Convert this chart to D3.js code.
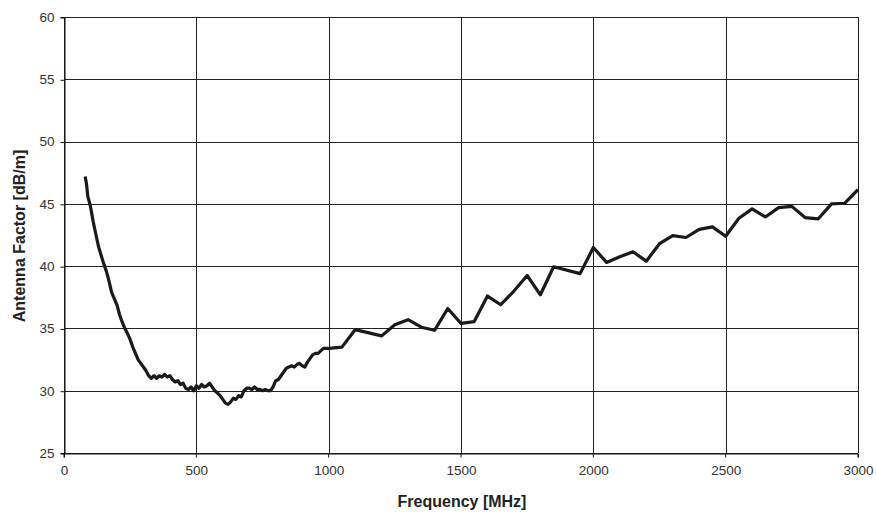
<!DOCTYPE html>
<html><head><meta charset="utf-8">
<script src="https://cdn.jsdelivr.net/npm/d3@7"></script>
<style>body{margin:0;background:#fff}svg{display:block}</style>
</head><body>
<svg id="c" width="876" height="513"></svg>
<script>
const freqs = [80,85,90,95,100,110,120,130,140,150,160,170,180,190,200,210,220,230,240,250,260,270,280,290,300,310,320,330,340,350,360,370,380,390,400,410,420,430,440,450,460,470,480,490,500,510,520,530,540,550,560,570,580,590,600,610,620,630,640,650,660,670,680,690,700,710,720,730,740,750,760,770,780,790,800,810,820,830,840,850,860,870,880,890,900,910,920,930,940,950,960,970,980,1000,1050,1100,1200,1250,1300,1350,1400,1450,1500,1550,1600,1650,1700,1750,1800,1850,1950,2000,2050,2100,2150,2200,2250,2300,2350,2400,2450,2500,2550,2600,2650,2700,2750,2800,2850,2900,2950,3000];
const antennaFactor = [47.2,46.6,45.6,45.2,44.8,43.6,42.6,41.6,40.9,40.2,39.6,38.8,37.9,37.4,36.9,36.1,35.5,35.0,34.6,34.1,33.5,33.0,32.5,32.2,31.9,31.6,31.2,31.0,31.2,31.0,31.2,31.1,31.3,31.1,31.2,30.9,30.7,30.8,30.5,30.6,30.2,30.1,30.3,30.0,30.4,30.2,30.5,30.3,30.4,30.6,30.3,30.0,29.8,29.6,29.3,29.0,28.9,29.1,29.4,29.3,29.6,29.5,30.0,30.2,30.2,30.1,30.3,30.1,30.1,30.0,30.1,30.0,30.0,30.3,30.8,30.9,31.2,31.5,31.8,31.9,32.0,31.9,32.1,32.2,32.0,31.9,32.3,32.6,32.9,33.0,33.0,33.2,33.4,33.4,33.5,34.9,34.4,35.3,35.7,35.1,34.85,36.6,35.4,35.55,37.6,36.9,38.0,39.25,37.7,39.95,39.4,41.5,40.3,40.75,41.15,40.4,41.8,42.45,42.3,42.95,43.15,42.4,43.85,44.6,43.95,44.7,44.8,43.9,43.8,45.0,45.05,46.15];
const xTicks = [0,500,1000,1500,2000,2500,3000];
const yTicks = [25,30,35,40,45,50,55,60];
const xTitle = "Frequency [MHz]";
const yTitle = "Antenna Factor [dB/m]";

const svg = d3.select("#c");
const L = 64, R = 858, T = 17, B = 453;
const x = d3.scaleLinear().domain([0,3000]).range([L,R]);
const y = d3.scaleLinear().domain([25,60]).range([B,T]);
const font = "'Liberation Sans', Arial, sans-serif";

// grid
svg.append("g").selectAll("line").data(yTicks).join("line")
  .attr("x1",L).attr("x2",R).attr("y1",d=>Math.round(y(d))+0.5).attr("y2",d=>Math.round(y(d))+0.5)
  .attr("stroke","#222").attr("stroke-width",1);
svg.append("g").selectAll("line").data(xTicks).join("line")
  .attr("y1",T).attr("y2",B).attr("x1",d=>Math.round(x(d))+0.5).attr("x2",d=>Math.round(x(d))+0.5)
  .attr("stroke","#222").attr("stroke-width",1);

// axes
const xa = svg.append("g").attr("transform",`translate(0,${Math.round(B)+0.5})`)
  .call(d3.axisBottom(x).tickValues(xTicks).tickSize(4).tickPadding(8).tickFormat(d3.format("d")));
const ya = svg.append("g").attr("transform",`translate(${Math.round(L)+0.5},0)`)
  .call(d3.axisLeft(y).tickValues(yTicks).tickSize(4).tickPadding(6).tickFormat(d3.format("d")));
[xa,ya].forEach(g=>{
  g.select(".domain").attr("stroke","#111");
  g.selectAll(".tick line").attr("stroke","#111");
  g.selectAll("text").attr("font-family",font).attr("font-size","13.5px").attr("fill","#333");
});
xa.selectAll(".tick line").attr("transform","translate(-0.5,0)");
ya.selectAll(".tick line").attr("transform","translate(0,0.5)");

// line
svg.append("path").datum(freqs.map((f,i)=>[f,antennaFactor[i]]))
  .attr("fill","none").attr("stroke","#1a1a1a").attr("stroke-width",3.2)
  .attr("stroke-linejoin","round")
  .attr("d",d3.line().x(d=>x(d[0])).y(d=>y(d[1])));

// titles
svg.append("text").attr("x",462).attr("y",506.5).attr("text-anchor","middle")
  .attr("font-family",font).attr("font-size","16px").attr("font-weight","bold").attr("fill","#222").text(xTitle);
svg.append("text").attr("transform","translate(25,236) rotate(-90)").attr("text-anchor","middle")
  .attr("font-family",font).attr("font-size","16px").attr("font-weight","bold").attr("fill","#222").text(yTitle);
</script>
</body></html>
